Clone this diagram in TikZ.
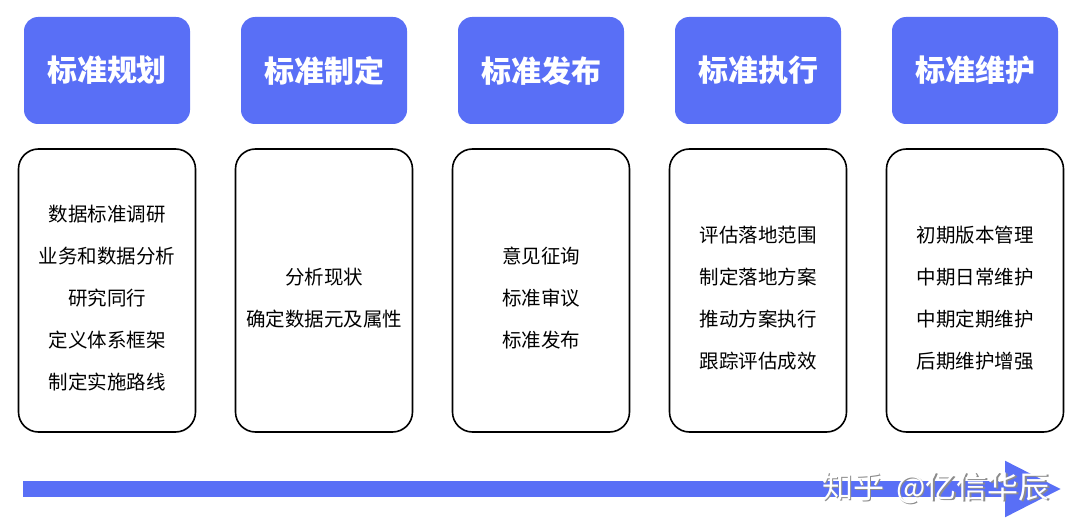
\documentclass[tikz,border=0pt]{standalone}
\usepackage{fontspec}
\newfontfamily\cjk{Noto Sans CJK SC}
\usetikzlibrary{positioning,arrows.meta}
\definecolor{azulcab}{RGB}{89,111,246}
\newcommand{\margensup}{\rule{0pt}{32pt}}
\tikzstyle{cabecera} = [rectangle, rounded corners=14pt, minimum width=166pt, minimum height=107pt, text centered, fill=azulcab, text=white, font=\cjk\bfseries\fontsize{30}{34}\selectfont]
\tikzstyle{cuerpo} = [rectangle, rounded corners=20pt, minimum width=177pt, minimum height=283pt, align=center, draw=black, line width=1.6pt, font=\cjk\fontsize{19.5}{42}\selectfont]
\tikzstyle{flecha} = [line width=16pt, azulcab, -{Triangle[length=57pt,width=52pt]}]
\tikzstyle{marca} = [font=\cjk\fontsize{31}{34}\selectfont]

\begin{document}
\begin{tikzpicture}[x=1pt, y=-1pt, node distance=217pt]
    \useasboundingbox (0,0) rectangle (1080,532);
    % Cabeceras
    \node (plan) [cabecera] at (107,70.5) {标准规划};
    \node (elab) [cabecera, right of=plan] {标准制定};
    \node (publ) [cabecera, right of=elab] {标准发布};
    \node (ejec) [cabecera, right of=publ] {标准执行};
    \node (mant) [cabecera, right of=ejec] {标准维护};
    % Cuadros
    \node (cplan) [cuerpo, node distance=220pt, below of=plan] {\margensup 数据标准调研\\业务和数据分析\\研究同行\\定义体系框架\\制定实施路线};
    \node (celab) [cuerpo, node distance=220pt, below of=elab] {\margensup 分析现状\\确定数据元及属性};
    \node (cpubl) [cuerpo, node distance=220pt, below of=publ] {\margensup 意见征询\\标准审议\\标准发布};
    \node (cejec) [cuerpo, node distance=220pt, below of=ejec] {\margensup 评估落地范围\\制定落地方案\\推动方案执行\\跟踪评估成效};
    \node (cmant) [cuerpo, node distance=220pt, below of=mant] {\margensup 初期版本管理\\中期日常维护\\中期定期维护\\后期维护增强};
    % Flecha
    \coordinate (inicio) at (23,489);
    \coordinate (fin) at (1062,489);
    \draw[flecha] (inicio) -- (fin);
    % Marca de agua
    \node (sombra) [marca, text=black!45] at (937.5,489.5) {知乎 \,@亿信华辰};
    \node (texto) [marca, text=white] at (936,488) {知乎 \,@亿信华辰};
\end{tikzpicture}
\end{document}
